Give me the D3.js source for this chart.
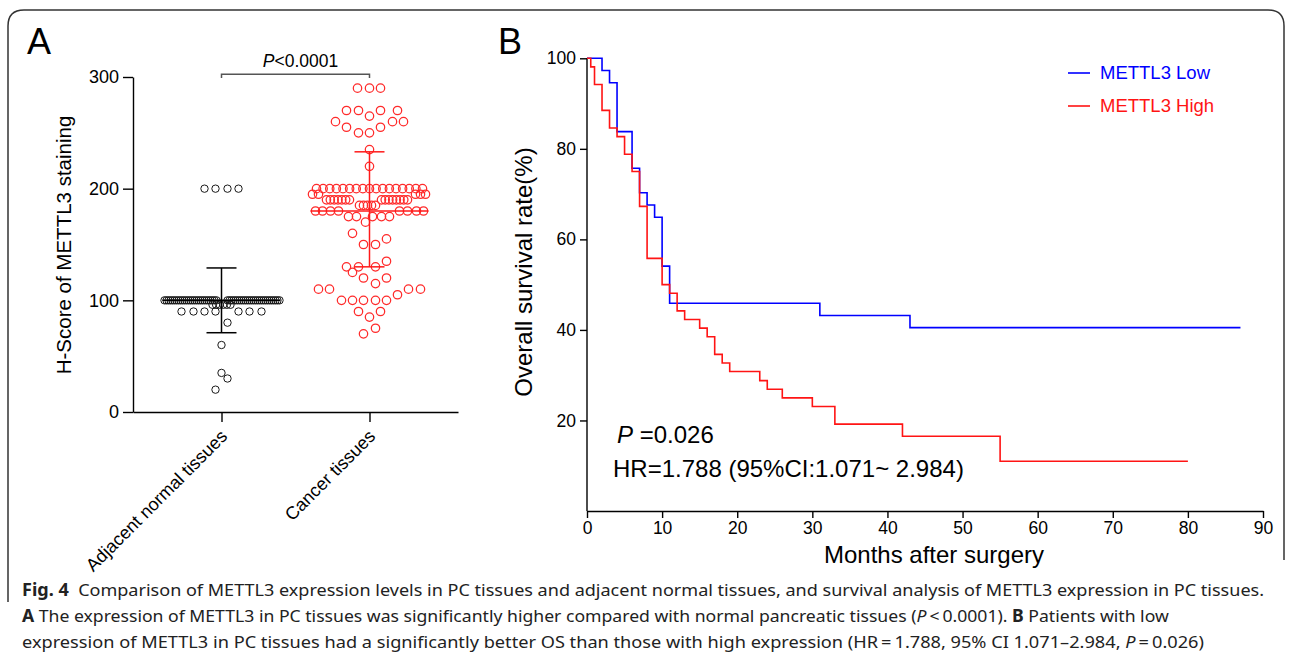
<!DOCTYPE html>
<html><head><meta charset="utf-8">
<script src="https://cdn.jsdelivr.net/npm/d3@7"></script>
<style>body{margin:0;background:#fff} svg{display:block}</style>
</head><body>
<svg id="c" width="1292" height="659"></svg>
<script>
// ---------------- Panel A data ----------------
const categoriesA = ["Adjacent normal tissues", "Cancer tissues"];
const yTicksA = [0, 100, 200, 300];
const pTextA = "<0.0001";
// H-score rows: value + horizontal jitter slots (scatter-dot layout)
function spread(n, a, b) { return d3.range(n).map(i => n === 1 ? a : a + (b - a) * i / (n - 1)); }
const normalRows = [
  { v: 200, j: [-17, -6, 6, 17] },
  { v: 100, j: spread(27, -57, -5) },
  { v: 100, j: spread(27, 6, 58) },
  { v: 96,  j: spread(6, -9, 9) },
  { v: 90,  j: [-40, -28, -17, -6, 17, 28, 40] },
  { v: 80,  j: [6] },
  { v: 60,  j: [0] },
  { v: 35,  j: [0] },
  { v: 30,  j: [6] },
  { v: 20,  j: [-6] }
];
const cancerRows = [
  { v: 290, j: [-12, 0, 11] },
  { v: 270, j: [-23, -11, 11, 28] },
  { v: 265, j: [0] },
  { v: 260, j: [-34, 23, 34] },
  { v: 255, j: [-23, 11] },
  { v: 250, j: [-11, 0] },
  { v: 235, j: [0] },
  { v: 220, j: [0] },
  { v: 200, j: spread(17, -53, 53) },
  { v: 195, j: [-57, -51, 46, 51, 56] },
  { v: 190, j: spread(7, -43, -20) },
  { v: 190, j: spread(8, 12, 38) },
  { v: 185, j: spread(5, -10, 6) },
  { v: 180, j: [-54, -47, -39, -31, 30, 38, 47, 54] },
  { v: 175, j: [-21, -13, 3, 12, 20] },
  { v: 170, j: [-4] },
  { v: 160, j: [-17] },
  { v: 155, j: [17] },
  { v: 150, j: [-6, 6] },
  { v: 135, j: [17] },
  { v: 130, j: [-23, -11, 6] },
  { v: 125, j: [-17] },
  { v: 120, j: [-6, 17] },
  { v: 115, j: [6] },
  { v: 110, j: [-51, -40, 39, 51] },
  { v: 105, j: [28] },
  { v: 100, j: [-28, -17, -6, 6, 17] },
  { v: 90,  j: [-11, 11] },
  { v: 85,  j: [0] },
  { v: 75,  j: [6] },
  { v: 70,  j: [-6] }
];
const groupMeans = [100, 180];
const groupSdLow = [71, 130];
const groupSdHigh = [129, 233];

// ---------------- Panel B data ----------------
const lowTimes = [0, 2, 3, 4, 6, 7, 8, 9, 10, 11, 31, 43, 87];
const lowSurv  = [100, 97.3, 94.6, 83.8, 75.7, 70.3, 67.6, 64.9, 54.1, 45.9, 43.2, 40.5, 40.5];
const highTimes = [0, 0.5, 1, 2, 3, 4, 5, 6, 7, 8, 10, 11, 12, 13, 15, 16, 17, 18, 19, 23, 24, 26, 30, 33, 42, 55, 80];
const highSurv  = [100, 98.1, 94.2, 88.5, 84.6, 82.7, 78.8, 75.0, 67.3, 55.8, 50.0, 48.1, 44.2, 42.3, 40.4, 38.5, 34.6, 32.7, 30.8, 28.8, 26.9, 25.0, 23.1, 19.2, 16.5, 11.0, 11.0];
const xTicksB = [0, 10, 20, 30, 40, 50, 60, 70, 80, 90];
const yTicksB = [20, 40, 60, 80, 100];
const legendLabels = ["METTL3 Low", "METTL3 High"];
const seriesColors = ["#0000ff", "#ff1414"];

const FONT = "'Liberation Sans', Arial, sans-serif";
const svg = d3.select("#c");

// frame
svg.append("path")
  .attr("d", "M8,602 L8,26 Q8,10 24,10 L1268,10 Q1284,10 1284,26 L1284,560")
  .attr("fill", "none").attr("stroke", "#333").attr("stroke-width", 1.5);

// ---------------- Panel A ----------------
const gA = svg.append("g");
const yA = d3.scaleLinear().domain([0, 300]).range([412, 77]);
const xA = d3.scalePoint().domain(categoriesA).range([133, 458]).padding(0.598);
const jit = d3.scaleLinear().domain([-60, 60]).range([-60, 60]);

const axYA = gA.append("g").attr("transform", "translate(133,0)")
  .call(d3.axisLeft(yA).tickValues(yTicksA).tickSize(10).tickSizeOuter(0).tickPadding(4));
axYA.selectAll("text").attr("font-size", 18).attr("font-family", FONT).attr("fill", "#000");
axYA.selectAll("path,line").attr("stroke", "#000").attr("stroke-width", 1.4);

const axXA = gA.append("g").attr("transform", "translate(0,412)")
  .call(d3.axisBottom(xA).tickSize(10).tickSizeOuter(0));
axXA.selectAll("path,line").attr("stroke", "#000").attr("stroke-width", 1.4);
axXA.selectAll("text")
  .attr("font-size", 18).attr("font-family", FONT).attr("fill", "#000")
  .attr("text-anchor", "end").attr("x", 0).attr("y", 0).attr("dy", "0.35em")
  .attr("transform", "translate(2,21) rotate(-45)");

gA.append("text").attr("transform", "translate(71,245) rotate(-90)")
  .attr("text-anchor", "middle").attr("font-family", FONT).attr("font-size", 20.5)
  .text("H-Score of METTL3 staining");

gA.append("text").attr("x", 27).attr("y", 54).attr("font-family", FONT).attr("font-size", 36).text("A");

const groups = [normalRows, cancerRows];
const groupColors = ["#1a1a1a", "#ff2a2a"];
groups.forEach((rows, gi) => {
  const cx = xA(categoriesA[gi]);
  const pts = [];
  rows.forEach(r => r.j.forEach(j => pts.push({ v: r.v, j })));
  gA.append("g").selectAll("circle").data(pts).join("circle")
    .attr("cx", d => cx + jit(d.j)).attr("cy", d => yA(d.v))
    .attr("r", gi === 0 ? 3.7 : 4.2)
    .attr("fill", "none").attr("stroke", groupColors[gi])
    .attr("stroke-width", gi === 0 ? 1.0 : 1.25);
  const g = gA.append("g").attr("stroke", gi === 0 ? "#000" : "#ff1a1a").attr("stroke-width", 1.5);
  g.append("line").attr("x1", cx).attr("x2", cx).attr("y1", yA(groupSdLow[gi])).attr("y2", yA(groupSdHigh[gi]));
  g.append("line").attr("x1", cx + jit(-59)).attr("x2", cx + jit(59)).attr("y1", yA(groupMeans[gi])).attr("y2", yA(groupMeans[gi]));
  [groupSdLow[gi], groupSdHigh[gi]].forEach(v =>
    g.append("line").attr("x1", cx + jit(-15)).attr("x2", cx + jit(15)).attr("y1", yA(v)).attr("y2", yA(v)));
});

// significance bracket
const bx0 = xA(categoriesA[0]), bx1 = xA(categoriesA[1]);
gA.append("path")
  .attr("d", `M${bx0},${yA(299)}V${yA(302.5)}H${bx1}V${yA(299)}`)
  .attr("fill", "none").attr("stroke", "#555").attr("stroke-width", 1.5);
const pt = gA.append("text").attr("x", (bx0 + bx1) / 2 + 5).attr("y", 67)
  .attr("text-anchor", "middle").attr("font-family", FONT).attr("font-size", 17.5);
pt.append("tspan").attr("font-style", "italic").text("P");
pt.append("tspan").text(pTextA);

// ---------------- Panel B ----------------
const gB = svg.append("g");
const xB = d3.scaleLinear().domain([0, 90]).range([587, 1263]);
const yB = d3.scaleLinear().domain([0, 100]).range([511, 58.3]);

const axYB = gB.append("g").attr("transform", "translate(587,0)")
  .call(d3.axisLeft(yB).tickValues(yTicksB).tickSize(7).tickSizeOuter(0).tickPadding(4));
const axXB = gB.append("g").attr("transform", "translate(0,511)")
  .call(d3.axisBottom(xB).tickValues(xTicksB).tickSize(7).tickSizeOuter(0).tickPadding(4));
[axYB, axXB].forEach(a => {
  a.selectAll("text").attr("font-size", 17.5).attr("font-family", FONT).attr("fill", "#000");
  a.selectAll("path,line").attr("stroke", "#000").attr("stroke-width", 1.4);
});
axYB.select("path.domain").attr("d", `M0,${yB(0)}V${yB(100)}`);

gB.append("text").attr("transform", "translate(532,272) rotate(-90)")
  .attr("text-anchor", "middle").attr("font-family", FONT).attr("font-size", 24)
  .text("Overall survival rate(%)");
gB.append("text").attr("x", 934).attr("y", 563)
  .attr("text-anchor", "middle").attr("font-family", FONT).attr("font-size", 24)
  .text("Months after surgery");
gB.append("text").attr("x", 498).attr("y", 54).attr("font-family", FONT).attr("font-size", 36).text("B");

const line = d3.line().x(d => xB(d[0])).y(d => yB(d[1])).curve(d3.curveStepAfter);
[[lowTimes, lowSurv], [highTimes, highSurv]].forEach(([t, s], i) => {
  gB.append("path").datum(t.map((tt, k) => [tt, s[k]]))
    .attr("d", line).attr("fill", "none").attr("stroke", seriesColors[i]).attr("stroke-width", 1.6);
});

// legend
legendLabels.forEach((lab, i) => {
  const y = 73 + i * 33;
  gB.append("line").attr("x1", 1068).attr("x2", 1090).attr("y1", y).attr("y2", y)
    .attr("stroke", seriesColors[i]).attr("stroke-width", 1.6);
  gB.append("text").attr("x", 1100).attr("y", y).attr("dy", "0.35em")
    .attr("font-family", FONT).attr("font-size", 18.5).attr("fill", seriesColors[i]).text(lab);
});

const t1 = gB.append("text").attr("x", 617).attr("y", 443).attr("font-family", FONT).attr("font-size", 24);
t1.append("tspan").attr("font-style", "italic").text("P");
t1.append("tspan").text(" =0.026");
gB.append("text").attr("x", 613).attr("y", 477).attr("font-family", FONT).attr("font-size", 24)
  .text("HR=1.788 (95%CI:1.071~ 2.984)");

// ---------------- Caption ----------------
const CAP = "'Noto Sans', 'Open Sans', sans-serif";
const captionLines = [
  { y: 596, w: 1243, parts: [["Fig. 4", "b"], ["  Comparison of METTL3 expression levels in PC tissues and adjacent normal tissues, and survival analysis of METTL3 expression in PC tissues.", ""]] },
  { y: 622, w: 1148, parts: [["A", "b"], [" The expression of METTL3 in PC tissues was significantly higher compared with normal pancreatic tissues (", ""], ["P", "i"], ["\u2009<\u20090.0001). ", ""], ["B", "b"], [" Patients with low", ""]] },
  { y: 648, w: 1183, parts: [["expression of METTL3 in PC tissues had a significantly better OS than those with high expression (HR\u2009=\u20091.788, 95% CI 1.071\u20132.984, ", ""], ["P", "i"], ["\u2009=\u20090.026)", ""]] }
];
captionLines.forEach(L => {
  const g = svg.append("g");
  const t = g.append("text").attr("x", 0).attr("y", 0).attr("font-family", CAP).attr("font-size", 17).attr("fill", "#222");
  L.parts.forEach(([s, f]) => {
    const ts = t.append("tspan").text(s);
    if (f === "b") ts.attr("font-weight", "bold");
    if (f === "i") ts.attr("font-style", "italic");
  });
  t.attr("style", "white-space:pre");
  const w = t.node().getComputedTextLength();
  g.attr("transform", `translate(22,${L.y}) scale(${L.w / w},1)`);
});
</script>
</body></html>
